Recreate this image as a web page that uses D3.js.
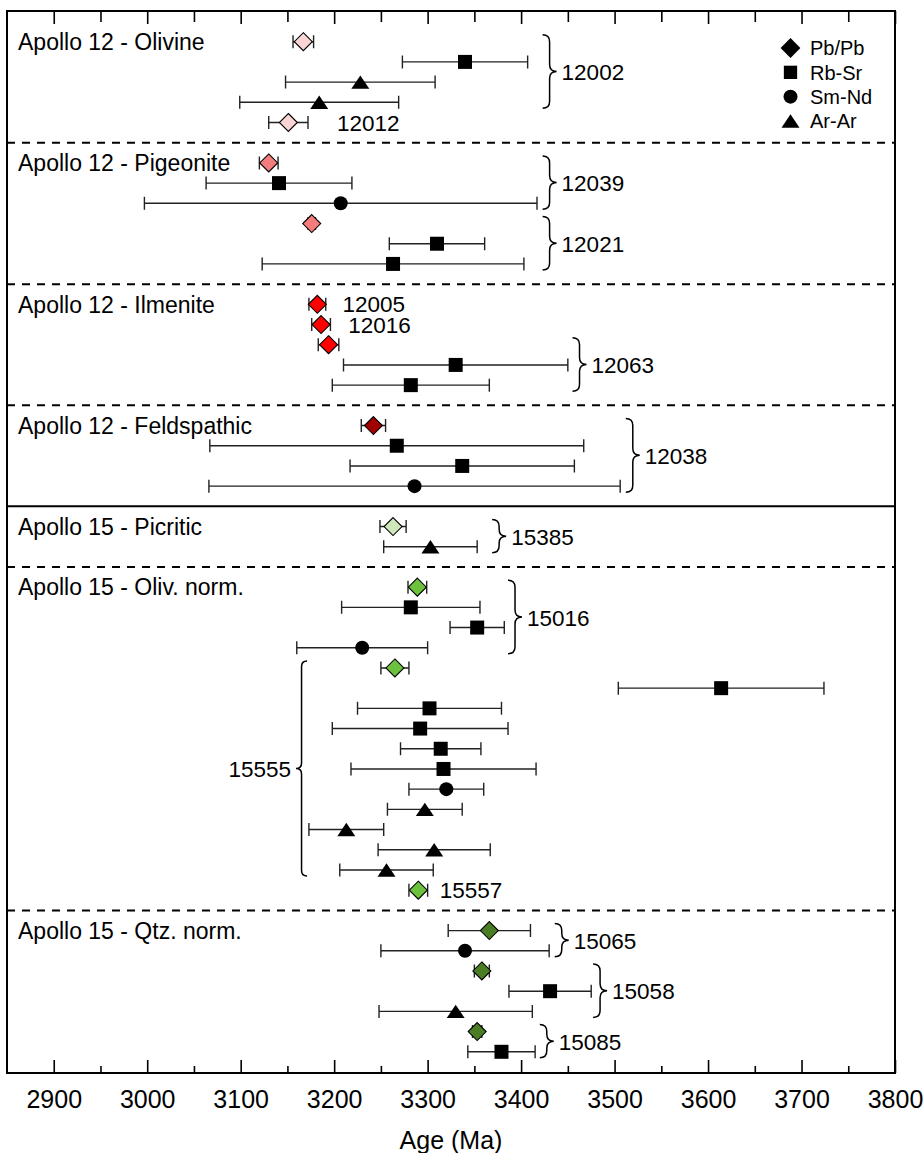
<!doctype html>
<html>
<head>
<meta charset="utf-8">
<script src="https://d3js.org/d3.v7.min.js"></script>
<style>
  body { margin: 0; background: #fff; }
  svg { display: block; }
  text { font-family: "Liberation Sans", Arial, Helvetica, sans-serif; fill: #000; }
  .title { font-size: 23px; }
  .sample { font-size: 22.5px; }
  .legend text { font-size: 20px; }
  .axis text { font-size: 25px; font-family: "Liberation Sans", Arial, Helvetica, sans-serif; }
</style>
</head>
<body>
<script>
// sections (groups of samples)
var sectionNames = ["Apollo 12 - Olivine", "Apollo 12 - Pigeonite", "Apollo 12 - Ilmenite",
    "Apollo 12 - Feldspathic", "Apollo 15 - Picritic", "Apollo 15 - Oliv. norm.", "Apollo 15 - Qtz. norm."];
var sectionColors = ["#fbd5d5", "#f47c7c", "#ff0000", "#a00000", "#cfe8bb", "#6cc23c", "#4a7d24"];
// line under each section: dashed, except the break between Apollo 12 and Apollo 15
var separatorSolid = [false, false, false, true, false, false];

// one entry per row of the chart, top to bottom
var rowSection = [0,0,0,0,0, 1,1,1,1,1,1, 2,2,2,2,2, 3,3,3,3, 4,4,
    5,5,5,5,5,5,5,5,5,5,5,5,5,5,5,5, 6,6,6,6,6,6,6];
var rowMethod = ["Pb","Rb","Ar","Ar","Pb",
    "Pb","Rb","Sm","Pb","Rb","Rb",
    "Pb","Pb","Pb","Rb","Rb",
    "Pb","Rb","Rb","Sm",
    "Pb","Ar",
    "Pb","Rb","Rb","Sm","Pb","Rb","Rb","Rb","Rb","Rb","Sm","Ar","Ar","Ar","Ar","Pb",
    "Pb","Sm","Pb","Rb","Ar","Pb","Rb"];
var rowAge = [3167, 3340, 3228, 3184, 3151,
    3130, 3141, 3207, 3176, 3310, 3263,
    3182, 3186, 3194, 3330, 3282,
    3242, 3267, 3337, 3286,
    3263, 3303,
    3289, 3282, 3353, 3230, 3265, 3614, 3302, 3292, 3314, 3317, 3320, 3297, 3213, 3307, 3256, 3290,
    3366, 3340, 3358, 3431, 3330, 3353, 3379];
var rowErr = [11, 67, 80, 85, 21,
    10, 78, 210, 4, 51, 140,
    9, 10, 11, 120, 84,
    13, 200, 120, 220,
    14, 50,
    10, 74, 29, 70, 15, 110, 77, 94, 43, 99, 40, 40, 40, 60, 50, 10,
    44, 90, 8, 44, 82, 5, 36];

// sample braces: first/last row covered, age at the open side, side (1 = "}", -1 = "{")
var braceLabels = ["12002", "12039", "12021", "12063", "12038", "15385", "15016", "15555", "15065", "15058", "15085"];
var braceFirst = [0, 5, 8, 13, 16, 20, 22, 26, 38, 40, 43];
var braceLast  = [3, 7, 10, 15, 19, 21, 25, 36, 39, 42, 44];
var braceAge   = [3423, 3423, 3423, 3455, 3512, 3369, 3386, 3171, 3436, 3477, 3420];
var braceSide  = [1, 1, 1, 1, 1, 1, 1, -1, 1, 1, 1];

// single-sample labels with no brace
var noteLabels = ["12012", "12005", "12016", "15557"];
var noteRow = [4, 11, 12, 37];
var noteAge = [3203, 3209, 3215, 3313];

// legend
var legendMethods = ["Pb", "Rb", "Sm", "Ar"];
var legendLabels = ["Pb/Pb", "Rb-Sr", "Sm-Nd", "Ar-Ar"];

// x axis
var xMin = 2850, xMax = 3800;
var tickValues = d3.range(2900, 3801, 50);

var W = 924, H = 1153;
var plotL = 7, plotR = 895, plotT = 11, plotB = 1073;

// slot per row: sections follow each other with one empty slot for the separator line
var rowSlot = [], sepSlot = [], sectionFirstRow = [];
var slot = 0;
sectionNames.forEach(function(name, s) {
    rowSection.forEach(function(sec, i) {
        if (sec === s) {
            if (sectionFirstRow[s] === undefined) sectionFirstRow[s] = i;
            rowSlot[i] = slot++;
        }
    });
    if (s < sectionNames.length - 1) sepSlot.push(slot++);
});
var lastSlot = slot - 1;

var x = d3.scaleLinear().domain([xMin, xMax]).range([plotL, plotR]);
var y = d3.scaleLinear().domain([-1.52, lastSlot + 1.05]).range([plotT, plotB]);

var svg = d3.select("body").append("svg").attr("width", W).attr("height", H);

// marker shapes
function marker(method, size) {
    var k = size || 1;
    if (method === "Pb") { var d = 9 * k; return "M0," + (-d) + "L" + d + ",0L0," + d + "L" + (-d) + ",0Z"; }
    if (method === "Rb") { var h = 7 * k; return "M" + (-h) + "," + (-h) + "H" + h + "V" + h + "H" + (-h) + "Z"; }
    if (method === "Sm") { var r = 7 * k; return "M" + r + ",0A" + r + "," + r + " 0 1,1 " + (-r) + ",0A" + r + "," + r + " 0 1,1 " + r + ",0Z"; }
    var w = 9 * k, t = 6.7 * k;
    return "M0," + (-t) + "L" + w + "," + t + "L" + (-w) + "," + t + "Z";
}

// separators
svg.append("g").selectAll("line").data(sepSlot).enter().append("line")
    .attr("x1", plotL).attr("x2", plotR)
    .attr("y1", function(d) { return y(d); }).attr("y2", function(d) { return y(d); })
    .attr("stroke", "#000")
    .attr("stroke-width", 2)
    .attr("stroke-dasharray", function(d, i) { return separatorSolid[i] ? null : "8,7"; });

// axes (inward ticks)
var axisB = d3.axisBottom(x).tickValues(tickValues).tickSizeInner(-13).tickSizeOuter(0).tickPadding(17)
    .tickFormat(function(d) { return d % 100 === 0 ? d : ""; });
var gB = svg.append("g").attr("class", "axis").attr("transform", "translate(0," + plotB + ")").call(axisB);
gB.select(".domain").remove();
gB.selectAll(".tick line").attr("stroke", "#000").attr("stroke-width", 1.6)
    .attr("y2", function(d) { return d % 100 === 0 ? -13 : -7; });

var axisT = d3.axisTop(x).tickValues(tickValues).tickSizeInner(-13).tickSizeOuter(0).tickFormat("");
var gT = svg.append("g").attr("class", "axis").attr("transform", "translate(0," + plotT + ")").call(axisT);
gT.select(".domain").remove();
gT.selectAll(".tick line").attr("stroke", "#000").attr("stroke-width", 1.6)
    .attr("y2", function(d) { return d % 100 === 0 ? 13 : 11; });

svg.append("text").attr("x", (plotL + plotR) / 2).attr("y", 1140).attr("dy", ".36em")
    .attr("text-anchor", "middle").style("font-size", "25px").text("Age (Ma)");

// frame
svg.append("rect").attr("x", plotL).attr("y", plotT).attr("width", plotR - plotL).attr("height", plotB - plotT)
    .attr("fill", "none").attr("stroke", "#000").attr("stroke-width", 2);

// section titles
svg.append("g").selectAll("text").data(sectionNames).enter().append("text")
    .attr("class", "title")
    .attr("x", 18)
    .attr("y", function(d, i) { return y(rowSlot[sectionFirstRow[i]]); })
    .attr("dy", ".36em")
    .text(function(d) { return d; });

var rows = d3.range(rowAge.length);

// error bars
var eb = svg.append("g").attr("stroke", "#222").attr("stroke-width", 1.4).attr("fill", "none");
eb.selectAll("path").data(rows).enter().append("path")
    .attr("d", function(i) {
        var x0 = x(rowAge[i] - rowErr[i]), x1 = x(rowAge[i] + rowErr[i]), yy = y(rowSlot[i]);
        return "M" + x0 + "," + (yy - 6.5) + "V" + (yy + 6.5) +
               "M" + x0 + "," + yy + "H" + x1 +
               "M" + x1 + "," + (yy - 6.5) + "V" + (yy + 6.5);
    });

// markers
svg.append("g").selectAll("path").data(rows).enter().append("path")
    .attr("transform", function(i) { return "translate(" + x(rowAge[i]) + "," + y(rowSlot[i]) + ")"; })
    .attr("d", function(i) { return marker(rowMethod[i]); })
    .attr("fill", function(i) { return rowMethod[i] === "Pb" ? sectionColors[rowSection[i]] : "#000"; })
    .attr("stroke", "#000")
    .attr("stroke-width", function(i) { return rowMethod[i] === "Pb" ? 1.1 : 0; });

// braces
function bracePath(x0, y0, y1, depth, side) {
    var h = depth / 2 * side, m = (y0 + y1) / 2, r = depth / 2;
    return "M" + x0 + "," + y0 +
        "Q" + (x0 + h) + "," + y0 + " " + (x0 + h) + "," + (y0 + r) +
        "L" + (x0 + h) + "," + (m - r) +
        "Q" + (x0 + h) + "," + m + " " + (x0 + 2 * h) + "," + m +
        "Q" + (x0 + h) + "," + m + " " + (x0 + h) + "," + (m + r) +
        "L" + (x0 + h) + "," + (y1 - r) +
        "Q" + (x0 + h) + "," + y1 + " " + x0 + "," + y1;
}
var br = svg.append("g");
braceLabels.forEach(function(label, i) {
    var depth = braceSide[i] > 0 ? 14 : 11;
    var x0 = x(braceAge[i]);
    var y0 = y(rowSlot[braceFirst[i]]) - 7, y1 = y(rowSlot[braceLast[i]]) + 6;
    br.append("path").attr("d", bracePath(x0, y0, y1, depth, braceSide[i]))
        .attr("fill", "none").attr("stroke", "#000").attr("stroke-width", 1.5);
    br.append("text").attr("class", "sample")
        .attr("x", x0 + braceSide[i] * (depth + 5))
        .attr("y", (y0 + y1) / 2 + 0.5)
        .attr("dy", ".36em")
        .attr("text-anchor", braceSide[i] > 0 ? "start" : "end")
        .text(label);
});

// single labels
svg.append("g").selectAll("text").data(noteLabels).enter().append("text")
    .attr("class", "sample")
    .attr("x", function(d, i) { return x(noteAge[i]); })
    .attr("y", function(d, i) { return y(rowSlot[noteRow[i]]); })
    .attr("dy", ".36em")
    .text(function(d) { return d; });

// legend
var lg = svg.append("g").attr("class", "legend");
var lgY = d3.scaleLinear().domain([0, 3]).range([48, 121]);
legendMethods.forEach(function(m, i) {
    lg.append("path").attr("transform", "translate(790.5," + lgY(i) + ")")
        .attr("d", marker(m, m === "Rb" ? 0.95 : (m === "Pb" ? 1.1 : 1))).attr("fill", "#000");
    lg.append("text").attr("x", 810).attr("y", lgY(i)).attr("dy", ".36em").text(legendLabels[i]);
});
</script>
</body>
</html>
